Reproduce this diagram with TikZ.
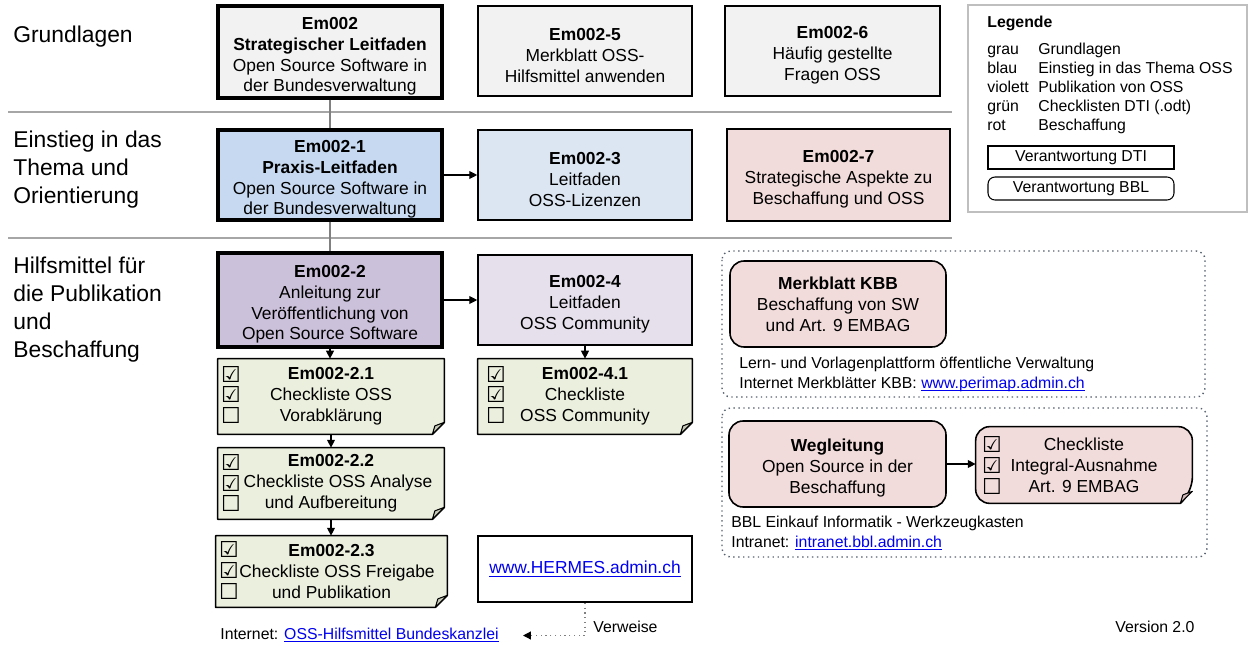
\documentclass[tikz,border=0pt]{standalone}
\usepackage{fontspec}
\setmainfont{Liberation Sans}
\newfontfamily\symfont{DejaVu Sans}
\usetikzlibrary{arrows.meta,backgrounds}

\definecolor{cgray}{HTML}{F2F2F2}
\definecolor{cblue}{HTML}{C6D9F1}
\definecolor{cblueL}{HTML}{DCE6F2}
\definecolor{cpurp}{HTML}{CCC1DA}
\definecolor{cpurpL}{HTML}{E6E0EC}
\definecolor{cred}{HTML}{F2DCDB}
\definecolor{credD}{HTML}{D2B8B7}
\definecolor{cgreen}{HTML}{EBEFDD}
\definecolor{cgreenD}{HTML}{C5C9B5}
\definecolor{linkblue}{HTML}{0000EE}
\definecolor{sepgray}{HTML}{A6A6A6}
\definecolor{contcol}{HTML}{56606E}
\definecolor{legframe}{HTML}{BFBFBF}

\newcommand\mainsz{\fontsize{9.9}{11.9}\selectfont}
\newcommand\smallsz{\fontsize{9}{11}\selectfont}
\newcommand\bigsz{\fontsize{13}{15.6}\selectfont}
\newcommand\lnk[1]{\textcolor{linkblue}{\underline{\raisebox{0pt}[\height][0pt]{#1}}}}
\newcommand\cby{{\symfont\bfseries ☑}}
\newcommand\cbn{{\symfont\bfseries ☐}}
\newcommand\tpad{\rule{0pt}{11.8pt}}

\newcommand\foldbox[3]{%
  \draw[line width=0.9pt, fill=#2, line join=round]
    (#1.north west) -- (#1.north east) -- ([yshift=0.24cm]#1.south east)
    -- ([xshift=-0.24cm]#1.south east) -- (#1.south west) -- cycle;
  \draw[line width=0.6pt, fill=#3, line join=round]
    ([yshift=0.24cm]#1.south east) -- ([xshift=-0.24cm]#1.south east)
    -- ([xshift=-0.19cm,yshift=0.17cm]#1.south east) -- cycle;
}
\newcommand\rfoldbox[3]{%
  \draw[line width=0.9pt, fill=#2, line join=round]
    (#1.west) [rounded corners=8pt] -- (#1.north west) -- (#1.north east)
    -- ([yshift=0.24cm]#1.south east) [sharp corners]
    -- ([xshift=-0.24cm]#1.south east) [rounded corners=8pt]
    -- (#1.south west) -- cycle;
  \draw[line width=0.6pt, fill=#3, line join=round]
    ([yshift=0.24cm]#1.south east) -- ([xshift=-0.24cm]#1.south east)
    -- ([xshift=-0.19cm,yshift=0.17cm]#1.south east) -- cycle;
}

\tikzset{
  sz/.style 2 args={minimum width=#1*0.02cm, minimum height=#2*0.02cm},
  doc/.style={draw=black, line width=0.9pt, inner sep=0pt, align=center, font=\mainsz},
  thickb/.style={line width=1.8pt},
  chk/.style={inner sep=0pt, align=center, font=\mainsz},
  rbox/.style={doc, rounded corners=8pt},
  cb/.style={inner sep=0pt, font=\fontsize{12.5}{14}\selectfont},
  lbl/.style={anchor=base west, inner sep=0pt, font=\bigsz},
  sm/.style={anchor=base west, inner sep=0pt, font=\smallsz},
  con/.style={line width=0.6pt, -{Triangle[length=4.5pt,width=4.5pt]}},
  gcon/.style={draw=black!50, line width=1pt},
  dotcon/.style={draw=black!50, dotted, line width=0.7pt, -{Triangle[length=4.5pt,width=4.5pt,color=black]}},
  sepline/.style={draw=sepgray, line width=1.1pt},
  cont/.style={draw=contcol, dotted, line width=0.8pt, rounded corners=5pt},
  legbox/.style={draw=black, line width=0.6pt, inner sep=0pt, font=\smallsz, sz={186}{23}}
}

\begin{document}
\begin{tikzpicture}[x=0.02cm, y=-0.02cm]
\useasboundingbox (0,0) rectangle (1250,646);

% separators
\draw[sepline] (8,112) -- (952,112);
\draw[sepline] (8,238) -- (952,238);

% left labels
\node[lbl] (g1) at (13,42) {Grundlagen};
\node[lbl] (t1) at (13,147) {Einstieg in das};
\node[lbl] (t2) at (13,175) {Thema und};
\node[lbl] (t3) at (13,203) {Orientierung};
\node[lbl] (h1) at (13,273) {Hilfsmittel für};
\node[lbl] (h2) at (13,301) {die Publikation};
\node[lbl] (h3) at (13,329) {und};
\node[lbl] (h4) at (13,357) {Beschaffung};

% row 1
\node[doc, thickb, fill=cgray, sz={224}{92}] (e0) at (330,52)
  {\tpad\textbf{Em002}\\\textbf{Strategischer Leitfaden}\\Open Source Software in\\der Bundesverwaltung};
\node[doc, fill=cgray, sz={214}{90}] (e5) at (585,51)
  {\tpad\textbf{Em002-5}\\Merkblatt OSS-\\Hilfsmittel anwenden};
\node[doc, fill=cgray, sz={215}{90}] (e6) at (832.5,51)
  {\tpad\textbf{Em002-6}\\Häufig gestellte\\Fragen OSS};

% row 2
\node[doc, thickb, fill=cblue, sz={224}{90}] (e1) at (330,175)
  {\tpad\textbf{Em002-1}\\\textbf{Praxis-Leitfaden}\\Open Source Software in\\der Bundesverwaltung};
\node[doc, fill=cblueL, sz={214}{90}] (e3) at (585,175)
  {\tpad\textbf{Em002-3}\\Leitfaden\\OSS-Lizenzen};
\node[doc, fill=cred, sz={223}{92}] (e7) at (838.5,175)
  {\tpad\textbf{Em002-7}\\Strategische Aspekte zu\\Beschaffung und OSS};

% row 3
\node[doc, thickb, fill=cpurp, sz={224}{94}] (e2) at (330,300)
  {\tpad\textbf{Em002-2}\\Anleitung zur\\Veröffentlichung von\\Open Source Software};
\node[doc, fill=cpurpL, sz={214}{90}] (e4) at (585,300)
  {\tpad\textbf{Em002-4}\\Leitfaden\\OSS Community};

% checklists
\node[chk, sz={226}{75}] (e21) at (331,396.5)
  {\textbf{Em002-2.1}\\Checkliste OSS\\Vorabklärung};
\node[chk, sz={214}{75}] (e41) at (585,396.5)
  {\textbf{Em002-4.1}\\Checkliste\\OSS Community};
\node[chk, sz={226}{71}] (e22) at (331,483.5)
  {\textbf{Em002-2.2}\\\hspace*{0.28cm}Checkliste OSS Analyse\\und Aufbereitung};
\node[chk, sz={231}{71}] (e23) at (331.5,571.5)
  {\textbf{Em002-2.3}\\\hspace*{0.22cm}Checkliste OSS Freigabe\\und Publikation};

\node[doc, fill=white, sz={214}{66}] (herm) at (585,569) {\lnk{www.HERMES.admin.ch}};

% containers
\draw[cont] (722,251) rectangle (1205,397);
\draw[cont] (722,408) rectangle (1207,557);

\node[rbox, fill=cred, sz={216}{86}] (kbb) at (838,304)
  {\textbf{Merkblatt KBB}\\Beschaffung von SW\\und Art. 9 EMBAG};
\node[rbox, fill=cred, sz={217}{86}] (weg) at (837.5,464)
  {\tpad\textbf{Wegleitung}\\Open Source in der\\Beschaffung};
\node[chk, sz={216}{76}] (intg) at (1084,465)
  {Checkliste\\Integral-Ausnahme\\Art. 9 EMBAG};

\node[sm] (l1) at (739,368) {Lern- und Vorlagenplattform öffentliche Verwaltung};
\node[sm] (l2) at (739,388) {Internet Merkblätter KBB: \lnk{www.perimap.admin.ch}};
\node[sm] (b1) at (731,527) {BBL Einkauf Informatik - Werkzeugkasten};
\node[sm] (b2) at (731,547) {Intranet: \lnk{intranet.bbl.admin.ch}};

% fold boxes on background
\begin{scope}[on background layer]
  \foldbox{e21}{cgreen}{cgreenD}
  \foldbox{e41}{cgreen}{cgreenD}
  \foldbox{e22}{cgreen}{cgreenD}
  \foldbox{e23}{cgreen}{cgreenD}
  \rfoldbox{intg}{cred}{credD}
\end{scope}

% checkboxes
\node[cb] (c211) at (231,374) {\cby};
\node[cb] (c212) at (231,394) {\cby};
\node[cb] (c213) at (231,415) {\cbn};
\node[cb] (c411) at (496,374) {\cby};
\node[cb] (c412) at (496,394) {\cby};
\node[cb] (c413) at (496,415) {\cbn};
\node[cb] (c221) at (231,462) {\cby};
\node[cb] (c222) at (231,483) {\cby};
\node[cb] (c223) at (231,503) {\cbn};
\node[cb] (c231) at (229,549) {\cby};
\node[cb] (c232) at (229,570) {\cby};
\node[cb] (c233) at (229,591) {\cbn};
\node[cb] (ci1) at (992,444) {\cby};
\node[cb] (ci2) at (992,465) {\cby};
\node[cb] (ci3) at (992,486) {\cbn};

% connectors
\draw[gcon] (e0) -- (e1);
\draw[gcon] (e1) -- (e2);
\draw[con] (e1) -- (e3);
\draw[con] (e2) -- (e4);
\draw[con] (e2.south) -- (e2.south |- e21.north);
\draw[con] (e4) -- (e41);
\draw[con] (e21.south) -- (e21.south |- e22.north);
\draw[con] (e22.south) -- (e22.south |- e23.north);
\draw[con] (weg.east) -- (weg.east -| intg.west);

\coordinate (ivw) at (523,635.5);
\draw[dotcon] (herm.south) |- (ivw);
\node[sm] (vw) at (593,632) {Verweise};
\node[sm] (inet) at (220,639) {Internet: \lnk{OSS-Hilfsmittel Bundeskanzlei}};

% legend
\draw[draw=legframe, line width=0.8pt] (968,5) rectangle (1247,212);
\node[sm, font=\smallsz\bfseries] (lg) at (987,27) {Legende};
\node[sm] (lk1) at (987,54) {grau};
\node[sm] (lv1) at (1038,54) {Grundlagen};
\node[sm] (lk2) at (987,73) {blau};
\node[sm] (lv2) at (1038,73) {Einstieg in das Thema OSS};
\node[sm] (lk3) at (987,92) {violett};
\node[sm] (lv3) at (1038,92) {Publikation von OSS};
\node[sm] (lk4) at (987,111) {grün};
\node[sm] (lv4) at (1038,111) {Checklisten DTI (.odt)};
\node[sm] (lk5) at (987,130) {rot};
\node[sm] (lv5) at (1038,130) {Beschaffung};
\node[legbox] (dti) at (1081,157.5) {Verantwortung DTI};
\node[legbox, rounded corners=4pt] (bbl) at (1081,188.5) {Verantwortung BBL};

\node[sm] (ver) at (1115,632) {Version 2.0};
\end{tikzpicture}
\end{document}
